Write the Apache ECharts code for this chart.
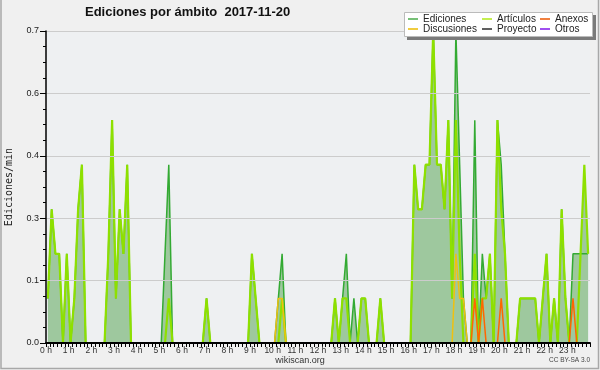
<!DOCTYPE html>
<html>
<head>
<meta charset="utf-8">
<script src="https://cdn.jsdelivr.net/npm/echarts@6/dist/echarts.min.js"></script>
<style>html,body{margin:0;padding:0;background:#f0f0f0;}#c{width:600px;height:370px;}</style>
</head>
<body>
<div id="c"></div>
<script>
// Ediciones por minuto, intervalos de 10 minutos (144 por día)
const ediciones = [
  .1,.3,.2,.2,0,.2,0,.1,.3,.4,0,0,
  0,0,0,0,.2,.5,.1,.3,.2,.4,0,0,
  0,0,0,0,0,0,0,.2,.4,0,0,0,
  0,0,0,0,0,0,.1,0,0,0,0,0,
  0,0,0,0,0,0,.2,.1,0,0,0,0,
  0,.1,.2,0,0,0,0,0,0,0,0,0,
  0,0,0,0,.1,0,.1,.2,0,.1,0,.1,
  .1,0,0,0,.1,0,0,0,0,0,0,0,
  0,.4,.3,.3,.4,.4,.7,.4,.4,.3,.5,.1,
  .7,.4,.1,0,0,.5,0,.2,.1,.2,0,.5,
  .4,.2,0,0,0,.1,.1,.1,.1,.1,0,.1,
  .2,0,.1,0,.3,.1,0,.2,.2,.2,.2,.2
];
const articulos = [
  .1,.3,.2,.2,0,.2,0,.1,.3,.4,0,0,
  0,0,0,0,.2,.5,.1,.3,.2,.4,0,0,
  0,0,0,0,0,0,0,0,.1,0,0,0,
  0,0,0,0,0,0,.1,0,0,0,0,0,
  0,0,0,0,0,0,.2,.1,0,0,0,0,
  0,0,.1,0,0,0,0,0,0,0,0,0,
  0,0,0,0,.1,0,.1,.1,0,0,0,.1,
  .1,0,0,0,.1,0,0,0,0,0,0,0,
  0,.4,.3,.3,.4,.4,.7,.4,.4,.3,.5,.1,
  .5,.2,0,0,0,.2,0,.1,.1,.2,0,.5,
  .3,.2,0,0,0,.1,.1,.1,.1,.1,0,.1,
  .2,0,.1,0,.3,.1,0,0,0,.2,.4,.2
];
const discusiones = [
  0,0,0,0,0,0,0,0,0,0,0,0,
  0,0,0,0,0,0,0,0,0,0,0,0,
  0,0,0,0,0,0,0,0,0,0,0,0,
  0,0,0,0,0,0,0,0,0,0,0,0,
  0,0,0,0,0,0,0,0,0,0,0,0,
  0,.1,.1,0,0,0,0,0,0,0,0,0,
  0,0,0,0,0,0,0,0,0,0,0,0,
  0,0,0,0,0,0,0,0,0,0,0,0,
  0,0,0,0,0,0,0,0,0,0,0,0,
  .2,.1,.1,0,0,0,0,0,0,0,0,0,
  0,0,0,0,0,0,0,0,0,0,0,0,
  0,0,0,0,0,0,0,0,0,0,0,0
];
const anexos = [
  0,0,0,0,0,0,0,0,0,0,0,0,
  0,0,0,0,0,0,0,0,0,0,0,0,
  0,0,0,0,0,0,0,0,0,0,0,0,
  0,0,0,0,0,0,0,0,0,0,0,0,
  0,0,0,0,0,0,0,0,0,0,0,0,
  0,0,0,0,0,0,0,0,0,0,0,0,
  0,0,0,0,0,0,0,0,0,0,0,0,
  0,0,0,0,0,0,0,0,0,0,0,0,
  0,0,0,0,0,0,0,0,0,0,0,0,
  0,0,0,0,0,.1,0,.1,0,0,0,0,
  .1,0,0,0,0,0,0,0,0,0,0,0,
  0,0,0,0,0,0,0,.1,0,0,0,0
];
const proyecto = [];
const otros = [];
const titulo = 'Ediciones por ámbito  2017-11-20';
const ejeY = 'Ediciones/min';

// bin centre times (hours)
const horas = ediciones.map((_, i) => (i + 0.5) / 6);
const relleno = ediciones.map((v, i) => Math.max(v, articulos[i]));
const pts = arr => arr.map((v, i) => [horas[i], v]);

const chart = echarts.init(document.getElementById('c'), null, {renderer: 'canvas'});
const lineSer = (name, data, color, width, z) => ({
  name, type: 'line', data: pts(data), showSymbol: false, symbol: 'none',
  lineStyle: {color, width}, itemStyle: {color}, z, animation: false
});
const legendText = {fontFamily: 'Liberation Sans', fontSize: 10, color: '#222', lineHeight: 10};
const mkLegend = (left, items) => ({
  orient: 'vertical', left, top: 14, itemWidth: 10, itemHeight: 2, itemGap: 0,
  icon: 'rect', padding: 0, z: 60, textStyle: legendText, selectedMode: false,
  data: items
});
chart.setOption({
  animation: false,
  backgroundColor: '#f0f0f0',
  title: {
    text: titulo, left: 85, top: 6, padding: 0,
    textStyle: {fontFamily: 'Liberation Sans', fontWeight: 'bold', fontSize: 13, color: '#111'}
  },
  legend: [
    mkLegend(408, [{name: 'Ediciones', itemStyle: {color: '#77c077'}}, {name: 'Discusiones', itemStyle: {color: '#f0cc40'}}]),
    mkLegend(482, [{name: 'Artículos', itemStyle: {color: '#c4ee50'}}, {name: 'Proyecto', itemStyle: {color: '#606060'}}]),
    mkLegend(540, [{name: 'Anexos', itemStyle: {color: '#f08040'}}, {name: 'Otros', itemStyle: {color: '#a050f0'}}])
  ],
  grid: {left: 46, right: 10, top: 31, bottom: 27, containLabel: false, outerBoundsMode: 'none',
    show: true, backgroundColor: '#eef0f2', borderWidth: 0},
  xAxis: {
    type: 'value', min: 0, max: 24, interval: 1, z: 10,
    axisLine: {show: true, onZero: false, lineStyle: {color: '#000', width: 2}},
    axisTick: {show: true, length: 4, lineStyle: {color: '#000'}},
    minorTick: {show: true, splitNumber: 6, length: 4, lineStyle: {color: '#000'}},
    splitLine: {show: false},
    axisLabel: {fontFamily: 'Liberation Sans', fontSize: 8.5, color: '#333', margin: 3,
      formatter: v => v < 24 ? v + ' h' : ''}
  },
  yAxis: {
    type: 'value', min: 0, max: 0.7, interval: 0.14, z: 10,
    name: ejeY, nameLocation: 'middle', nameGap: 32, nameRotate: 90,
    nameTextStyle: {fontFamily: 'DejaVu Sans Mono', fontSize: 10, color: '#222'},
    axisLine: {show: true, lineStyle: {color: '#000', width: 1.5}},
    axisTick: {show: true, length: 6, lineStyle: {color: '#000'}},
    minorTick: {show: true, splitNumber: 4, length: 3, lineStyle: {color: '#000'}},
    splitLine: {show: true, lineStyle: {color: '#cccccc', width: 1}},
    axisLabel: {fontFamily: 'Liberation Sans', fontSize: 9, color: '#222', margin: 7,
      formatter: v => v.toFixed(1)}
  },
  graphic: [
    {type: 'rect', z: 50, shape: {x: 407, y: 15, width: 189, height: 25}, style: {fill: '#7a7a7a'}},
    {type: 'rect', z: 51, shape: {x: 404.5, y: 12.5, width: 188, height: 24}, style: {fill: '#ffffff', stroke: '#bbbbbb', lineWidth: 1}},
    {type: 'text', z: 51, left: 'center', top: 356, style: {text: 'wikiscan.org', fontFamily: 'Liberation Sans', fontSize: 9, fill: '#333'}},
    {type: 'text', z: 51, right: 10, top: 357, style: {text: 'CC BY-SA 3.0', fontFamily: 'Liberation Sans', fontSize: 6.5, fill: '#444'}},
    {type: 'polyline', z: 51, shape: {points: [[1, 0], [1, 368.5], [598.5, 368.5], [598.5, 0]]}, style: {stroke: '#a8a8a8', lineWidth: 1.5, fill: null}}
  ],
  series: [
    {name: 'relleno', type: 'line', data: pts(relleno), showSymbol: false, symbol: 'none',
      lineStyle: {width: 0}, areaStyle: {color: '#9ec89e', opacity: 1}, z: 1},
    lineSer('Ediciones', ediciones, '#33aa33', 1.5, 2),
    lineSer('Artículos', articulos, '#8ee000', 2.2, 3),
    lineSer('Discusiones', discusiones, '#f0c010', 1.5, 4),
    lineSer('Anexos', anexos, '#ff6600', 1.5, 5),
    lineSer('Proyecto', proyecto, '#555555', 1.5, 5),
    lineSer('Otros', otros, '#9933ff', 1.5, 5)
  ]
});
</script>
</body>
</html>
